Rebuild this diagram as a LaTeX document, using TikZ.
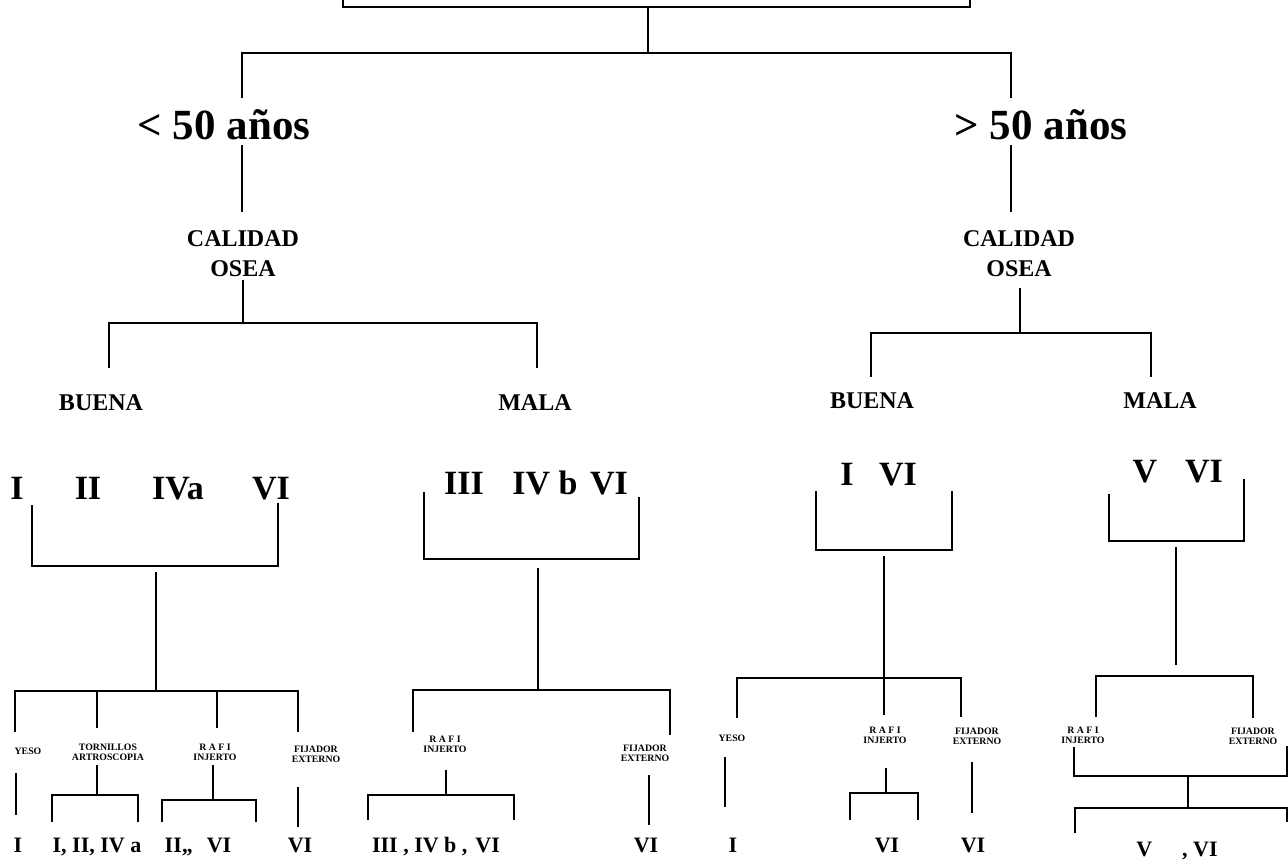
\documentclass[tikz,border=0pt]{standalone}
\usepackage{fontspec}
\usepackage{graphicx}
\setmainfont{Liberation Serif}
\newcommand{\twolines}[2]{\begin{tabular}[t]{@{}c@{}}#1\\#2\end{tabular}}
\tikzset{
  ln/.style={line width=1.5pt, line cap=butt, line join=miter},
  agebig/.style={font=\bfseries\fontsize{43}{45}\selectfont, inner sep=0pt, anchor=base},
  midtxt/.style={font=\bfseries\fontsize{24}{30}\selectfont, inner sep=0pt, anchor=base},
  romtxt/.style={font=\bfseries\fontsize{34}{36}\selectfont, inner sep=0pt, anchor=base},
  smltxt/.style={font=\bfseries\fontsize{9.8}{10}\selectfont, inner sep=0pt, anchor=base},
  restxt/.style={font=\bfseries\fontsize{22}{24}\selectfont, inner sep=0pt, anchor=base},
}
\begin{document}
\begin{tikzpicture}[x=1pt,y=-1pt]
\useasboundingbox (0,0) rectangle (1288,862);
\fill[white] (0,0) rectangle (1288,862);

% ---------- root box ----------
\node[draw, line width=2.2pt, minimum width=627pt, minimum height=40pt, inner sep=0pt, anchor=south] (root) at (656.5,8) {};

% ---------- text nodes ----------
\node[agebig] (lt) at (224,139) {< 50 años};
\node[agebig] (gt) at (1041,139) {> 50 años};

\node[midtxt] (calL) at (243,246) {\twolines{CALIDAD}{OSEA}};
\node[midtxt] (calR) at (1019,246) {\twolines{CALIDAD}{OSEA}};
\node[midtxt] (buenaL) at (101,410) {BUENA};
\node[midtxt] (malaL) at (535,410) {MALA};
\node[midtxt] (buenaR) at (872,408) {BUENA};
\node[midtxt] (malaR) at (1160,408) {MALA};

\node[romtxt] (rA1) at (17,499) {I};
\node[romtxt] (rA2) at (88,499) {II};
\node[romtxt] (rA3) at (178,499) {IVa};
\node[romtxt] (rA4) at (271,499) {VI};
\node[romtxt] (rB1) at (464,494) {III};
\node[romtxt] (rB2) at (545,494) {IV b};
\node[romtxt] (rB3) at (609,494) {VI};
\node[romtxt] (rC1) at (847,485) {I};
\node[romtxt] (rC2) at (898,485) {VI};
\node[romtxt] (rD1) at (1145,482) {V};
\node[romtxt] (rD2) at (1204,482) {VI};

\node[smltxt] (yeso1) at (28,754) {YESO};
\node[smltxt] (torn1) at (108,750) {\twolines{TORNILLOS}{ARTROSCOPIA}};
\node[smltxt] (rafi1) at (215,750) {\twolines{R A F I}{INJERTO}};
\node[smltxt] (fij1) at (316,752) {\twolines{FIJADOR}{EXTERNO}};
\node[smltxt] (rafi2) at (445,742) {\twolines{R A F I}{INJERTO}};
\node[smltxt] (fij2) at (645,751) {\twolines{FIJADOR}{EXTERNO}};
\node[smltxt] (yeso3) at (732,741) {YESO};
\node[smltxt] (rafi3) at (885,733) {\twolines{R A F I}{INJERTO}};
\node[smltxt] (fij3) at (977,734) {\twolines{FIJADOR}{EXTERNO}};
\node[smltxt] (rafi4) at (1083,733) {\twolines{R A F I}{INJERTO}};
\node[smltxt] (fij4) at (1253,734) {\twolines{FIJADOR}{EXTERNO}};

\node[restxt] (e1) at (18,852) {I};
\node[restxt] (e2) at (97,852) {I, II, IV a};
\node[restxt] (e3) at (198,852) {II,,\hspace{14pt}VI};
\node[restxt] (e4) at (300,852) {VI};
\node[restxt] (e5) at (436,852) {III , IV b ,\hspace{8pt}VI};
\node[restxt] (e6) at (646,852) {VI};
\node[restxt] (e7) at (733,852) {I};
\node[restxt] (e8) at (887,852) {VI};
\node[restxt] (e9) at (973,852) {VI};
\node[restxt] (e10) at (1177,856) {V\hspace{30pt}, VI};

% ---------- junction coordinates ----------
\coordinate (j0) at (648,53);
\coordinate (aL) at (242,53);   \coordinate (aR) at (1011,53);
\coordinate (aL1) at (242,98);  \coordinate (aR1) at (1011,98);
\coordinate (aL2) at (242,145); \coordinate (aR2) at (1011,145);
\coordinate (aL3) at (242,212); \coordinate (aR3) at (1011,212);

\coordinate (cL0) at (243,280); \coordinate (cL1) at (243,323);
\coordinate (cLa) at (109,323); \coordinate (cLb) at (537,323);
\coordinate (cLa1) at (109,368); \coordinate (cLb1) at (537,368);
\coordinate (cR0) at (1020,288); \coordinate (cR1) at (1020,333);
\coordinate (cRa) at (871,333); \coordinate (cRb) at (1151,333);
\coordinate (cRa1) at (871,377); \coordinate (cRb1) at (1151,377);

% brackets under roman numerals
\coordinate (bA1) at (32,505);  \coordinate (bA2) at (32,566);
\coordinate (bA3) at (278,566); \coordinate (bA4) at (278,503);
\coordinate (bA5) at (156,572); \coordinate (bA6) at (156,691);
\coordinate (bB1) at (424,492); \coordinate (bB2) at (424,559);
\coordinate (bB3) at (639,559); \coordinate (bB4) at (639,497);
\coordinate (bB5) at (538,568); \coordinate (bB6) at (538,690);
\coordinate (bC1) at (816,491); \coordinate (bC2) at (816,550);
\coordinate (bC3) at (952,550); \coordinate (bC4) at (952,491);
\coordinate (bC5) at (884,556); \coordinate (bC6) at (884,715);
\coordinate (bD1) at (1109,494); \coordinate (bD2) at (1109,541);
\coordinate (bD3) at (1244,541); \coordinate (bD4) at (1244,479);
\coordinate (bD5) at (1176,547); \coordinate (bD6) at (1176,665);

% ---------- connectors ----------
\draw[ln] (root.south -| j0) -- (j0);
\draw[ln] (aL1) -- (aL) -- (aR) -- (aR1);
\draw[ln] (aL2) -- (aL3);
\draw[ln] (aR2) -- (aR3);

\draw[ln] (cL0) -- (cL1);
\draw[ln] (cLa1) -- (cLa) -- (cLb) -- (cLb1);
\draw[ln] (cR0) -- (cR1);
\draw[ln] (cRa1) -- (cRa) -- (cRb) -- (cRb1);

\draw[ln] (bA1) -- (bA2) -- (bA3) -- (bA4);
\draw[ln] (bA5) -- (bA6);
\draw[ln] (bB1) -- (bB2) -- (bB3) -- (bB4);
\draw[ln] (bB5) -- (bB6);
\draw[ln] (bC1) -- (bC2) -- (bC3) -- (bC4);
\draw[ln] (bC5) -- (bC6);
\draw[ln] (bD1) -- (bD2) -- (bD3) -- (bD4);
\draw[ln] (bD5) -- (bD6);

% group 1 (left, buena <50)
\coordinate (g1a) at (15,732);  \coordinate (g1b) at (15,691);
\coordinate (g1c) at (298,691); \coordinate (g1d) at (298,732);
\coordinate (g1e) at (97,691);  \coordinate (g1f) at (97,728);
\coordinate (g1g) at (217,691); \coordinate (g1h) at (217,728);
\draw[ln] (g1a) -- (g1b) -- (g1c) -- (g1d);
\draw[ln] (g1e) -- (g1f);
\draw[ln] (g1g) -- (g1h);
\coordinate (y1a) at (16,773); \coordinate (y1b) at (16,815);
\draw[ln] (y1a) -- (y1b);
\coordinate (t1a) at (97,765); \coordinate (t1b) at (97,795);
\coordinate (t1c) at (52,822); \coordinate (t1d) at (52,795);
\coordinate (t1e) at (138,795); \coordinate (t1f) at (138,822);
\draw[ln] (t1a) -- (t1b);
\draw[ln] (t1c) -- (t1d) -- (t1e) -- (t1f);
\coordinate (r1a) at (213,765); \coordinate (r1b) at (213,800);
\coordinate (r1c) at (162,822); \coordinate (r1d) at (162,800);
\coordinate (r1e) at (256,800); \coordinate (r1f) at (256,822);
\draw[ln] (r1a) -- (r1b);
\draw[ln] (r1c) -- (r1d) -- (r1e) -- (r1f);
\coordinate (f1a) at (298,787); \coordinate (f1b) at (298,827);
\draw[ln] (f1a) -- (f1b);

% group 2 (mala <50)
\coordinate (g2a) at (413,732); \coordinate (g2b) at (413,690);
\coordinate (g2c) at (670,690); \coordinate (g2d) at (670,735);
\draw[ln] (g2a) -- (g2b) -- (g2c) -- (g2d);
\coordinate (r2a) at (446,770); \coordinate (r2b) at (446,795);
\coordinate (r2c) at (368,820); \coordinate (r2d) at (368,795);
\coordinate (r2e) at (514,795); \coordinate (r2f) at (514,820);
\draw[ln] (r2a) -- (r2b);
\draw[ln] (r2c) -- (r2d) -- (r2e) -- (r2f);
\coordinate (f2a) at (649,775); \coordinate (f2b) at (649,825);
\draw[ln] (f2a) -- (f2b);

% group 3 (buena >50)
\coordinate (g3a) at (737,718); \coordinate (g3b) at (737,678);
\coordinate (g3c) at (961,678); \coordinate (g3d) at (961,717);
\draw[ln] (g3a) -- (g3b) -- (g3c) -- (g3d);
\coordinate (y3a) at (725,757); \coordinate (y3b) at (725,807);
\draw[ln] (y3a) -- (y3b);
\coordinate (r3a) at (886,768); \coordinate (r3b) at (886,793);
\coordinate (r3c) at (850,820); \coordinate (r3d) at (850,793);
\coordinate (r3e) at (918,793); \coordinate (r3f) at (918,820);
\draw[ln] (r3a) -- (r3b);
\draw[ln] (r3c) -- (r3d) -- (r3e) -- (r3f);
\coordinate (f3a) at (972,762); \coordinate (f3b) at (972,813);
\draw[ln] (f3a) -- (f3b);

% group 4 (mala >50)
\coordinate (g4a) at (1096,717); \coordinate (g4b) at (1096,676);
\coordinate (g4c) at (1253,676); \coordinate (g4d) at (1253,718);
\draw[ln] (g4a) -- (g4b) -- (g4c) -- (g4d);
\coordinate (h4a) at (1074,747); \coordinate (h4b) at (1074,776);
\coordinate (h4c) at (1287,776); \coordinate (h4d) at (1287,746);
\draw[ln] (h4a) -- (h4b) -- (h4c) -- (h4d);
\coordinate (h4e) at (1188,776); \coordinate (h4f) at (1188,808);
\draw[ln] (h4e) -- (h4f);
\coordinate (k4a) at (1075,833); \coordinate (k4b) at (1075,808);
\coordinate (k4c) at (1288,808); \coordinate (k4d) at (1287,808);
\coordinate (k4e) at (1287,822);
\draw[ln] (k4a) -- (k4b) -- (k4c);
\draw[ln] (k4d) -- (k4e);
\end{tikzpicture}
\end{document}
